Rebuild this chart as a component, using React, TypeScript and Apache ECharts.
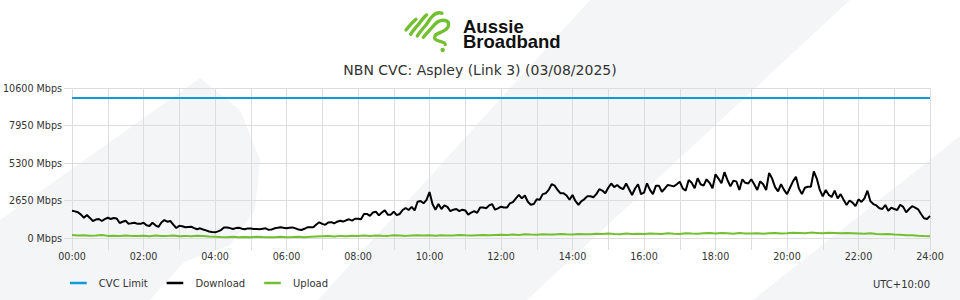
import React, { useEffect, useRef } from 'react';
import * as echarts from 'echarts';

// Download throughput, Mbps, every 5 minutes from 00:00 to 24:00
const DOWNLOAD_MBPS = [
  1930, 1880, 1820, 1650, 1430, 1620, 1420, 1200, 1300, 1340, 1200, 1330,
  1430, 1340, 1410, 1380, 1060, 1150, 1220, 1000, 1050, 1080, 1000, 1000,
  1080, 900, 850, 1080, 900, 780, 1100, 1270, 1150, 1200, 950, 707,
  860, 830, 760, 780, 800, 700, 615, 685, 600, 540, 460, 420,
  400, 470, 560, 740, 740, 700, 640, 700, 728, 660, 615, 680,
  670, 640, 630, 615, 650, 685, 580, 600, 685, 720, 756, 720,
  685, 720, 750, 680, 600, 565, 650, 756, 756, 756, 950, 1110,
  1000, 930, 1100, 1120, 1040, 1150, 1220, 1160, 1250, 1320, 1230, 1360,
  1360, 1320, 1700, 1700, 1560, 1800, 1860, 1600, 1800, 1950, 1650, 1650,
  1860, 1620, 1700, 1979, 2120, 1979, 2200, 1950, 2565, 2620, 2452, 2700,
  3250, 2400, 2000, 2400, 2050, 2300, 2200, 1900, 2000, 2050, 1900, 2000,
  1950, 1650, 1800, 1900, 1780, 2150, 2160, 2099, 2300, 2400, 2000, 2100,
  2212, 2150, 2150, 2452, 2540, 2800, 3050, 2800, 3000, 2565, 2350, 2400,
  2735, 2700, 3100, 3159, 3400, 3800, 3700, 3392, 3159, 3159, 3000, 2700,
  3039, 2600, 2350, 2600, 2750, 2950, 2950, 2880, 3100, 3450, 3350, 3159,
  3550, 3850, 3600, 3745, 3550, 3450, 3850, 3450, 3039, 3500, 3800, 3100,
  3200, 3866, 3400, 3100, 3700, 3700, 3272, 3500, 3750, 3700, 3650, 3800,
  3979, 3500, 3350, 4100, 3900, 3512, 4219, 3800, 3700, 4150, 3900, 3512,
  4500, 4200, 3866, 4650, 4100, 3650, 4050, 4000, 3392, 4148, 3900, 3850,
  4150, 3800, 3392, 4000, 3800, 3392, 4600, 4200, 3600, 3300, 3800, 3400,
  3100, 3550, 4000, 4332, 3500, 3100, 3550, 3625, 3625, 4700, 4200, 3400,
  2950, 3392, 3050, 2900, 3350, 2800, 3100, 2700, 2332, 2650, 2500, 2250,
  2735, 2550, 2800, 3343, 2600, 2400, 2300, 2100, 2050, 2332, 1929, 2141,
  2050, 1979, 2350, 2200, 1816, 2050, 2250, 2150, 2028, 1700, 1392, 1343,
  1555,
];

// Upload throughput, Mbps, every 10 minutes from 00:00 to 24:00
const UPLOAD_MBPS = [
  210, 180, 200, 160, 170, 210, 150, 160, 140, 180, 150, 140,
  160, 130, 170, 140, 150, 180, 130, 150, 120, 160, 140, 100,
  90, 70, 60, 80, 50, 70, 60, 90, 70, 60, 50, 80,
  60, 70, 90, 60, 80, 100, 120, 140, 110, 150, 130, 160,
  150, 170, 140, 180, 160, 150, 190, 170, 150, 180, 200, 170,
  190, 160, 200, 180, 170, 210, 190, 180, 200, 220, 190, 210,
  230, 210, 250, 220, 260, 240, 230, 270, 250, 240, 280, 260,
  250, 290, 270, 260, 300, 280, 320, 290, 270, 310, 280, 300,
  290, 320, 300, 280, 330, 300, 290, 340, 310, 300, 330, 350,
  320, 360, 330, 300, 350, 320, 310, 340, 300, 330, 360, 320,
  340, 370, 350, 330, 380, 360, 340, 370, 350, 330, 360, 340,
  320, 300, 330, 290, 270, 280, 250, 230, 200, 190, 160, 140,
  130,
];

const CVC_LIMIT_MBPS = 9900;
const DOWNLOAD_STEP_MIN = 5;
const UPLOAD_STEP_MIN = 10;
const DAY_MINUTES = 1440;

const X_TICK_LABELS = [
  '00:00', '02:00', '04:00', '06:00', '08:00', '10:00', '12:00',
  '14:00', '16:00', '18:00', '20:00', '22:00', '24:00',
];
const Y_TICK_VALUES = [0, 2650, 5300, 7950, 10600];
const SERIES_NAMES = ['CVC Limit', 'Download', 'Upload'];
const TITLE = 'NBN CVC: Aspley (Link 3) (03/08/2025)';
const TIMEZONE = 'UTC+10:00';
const BRAND_LINES = ['Aussie', 'Broadband'];

const LOGO_PATH =
  'M 78 90 Q 92 72 108 58 ' +
  'M 92 103 C 100 90 108 82 118 70 C 126 60 132 50 140 45 ' +
  'M 112 108 C 120 95 130 85 138 75 C 146 65 150 55 158 48 C 166 40 176 36 186 40 ' +
  'M 130 112 C 140 100 150 90 160 78 C 170 66 185 58 198 62 C 210 66 208 82 196 90 C 182 100 162 100 164 114 C 166 126 196 122 196 134';

echarts.graphic.registerShape('abLogo', echarts.graphic.extendPath(LOGO_PATH, {}));

const FONT = 'DejaVu Sans';
const GREEN = '#72bf2f';
const BLUE = '#0f9ad8';
const BG = '#f4f5f7';
// legend line icon 20px wide followed by blank space before the text
const LEGEND_ICON = 'path://M0,0 H20 V3 H0 Z M25.99,0 H26 V3 H25.99 Z';

export default function App() {
  const ref = useRef<HTMLDivElement>(null);

  useEffect(() => {
    if (!ref.current) return;
    const chart = echarts.init(ref.current, undefined, { renderer: 'svg' });

    const downloadData = DOWNLOAD_MBPS.map((v, i) => [i * DOWNLOAD_STEP_MIN, v]);
    const uploadData = UPLOAD_MBPS.map((v, i) => [i * UPLOAD_STEP_MIN, v]);
    const cvcData = [[0, CVC_LIMIT_MBPS], [DAY_MINUTES, CVC_LIMIT_MBPS]];

    const bg = (points: number[][]) => ({
      type: 'polygon',
      shape: { points },
      style: { fill: BG },
      z: -10,
      silent: true,
    });

    chart.setOption({
      animation: false,
      backgroundColor: '#ffffff',
      title: {
        text: TITLE,
        left: 'center',
        top: 63,
        padding: 0,
        textStyle: { fontFamily: FONT, fontSize: 14, fontWeight: 'normal', color: '#333333' },
      },
      legend: {
        left: 70,
        top: 278,
        padding: 0,
        icon: LEGEND_ICON,
        itemWidth: 26,
        itemHeight: 2.5,
        itemGap: 19,
        data: SERIES_NAMES,
        textStyle: { fontFamily: FONT, fontSize: 10, color: '#333333' },
      },
      grid: { left: 70, right: 30, top: 88, bottom: 62, containLabel: false },
      xAxis: {
        type: 'value',
        min: 0,
        max: DAY_MINUTES,
        interval: 60,
        axisLine: { show: true, lineStyle: { color: '#dddddd' } },
        axisTick: { show: true, length: 12, lineStyle: { color: '#dddddd' } },
        axisLabel: {
          margin: 13,
          fontFamily: FONT,
          fontSize: 9.6,
          color: '#333333',
          formatter: (v: number) => (v % 120 === 0 ? X_TICK_LABELS[v / 120] : ''),
        },
        splitLine: { show: true, lineStyle: { color: '#dddddd' } },
      },
      yAxis: {
        type: 'value',
        min: Y_TICK_VALUES[0],
        max: Y_TICK_VALUES[Y_TICK_VALUES.length - 1],
        interval: Y_TICK_VALUES[1] - Y_TICK_VALUES[0],
        axisLine: { show: false },
        axisTick: { show: true, length: 8, lineStyle: { color: '#dddddd' } },
        axisLabel: {
          margin: 10,
          fontFamily: FONT,
          fontSize: 9.6,
          color: '#333333',
          formatter: (v: number) => `${v} Mbps`,
        },
        splitLine: { show: true, lineStyle: { color: '#dddddd' } },
      },
      graphic: [
        bg([[590, 0], [850, 0], [527, 300], [318, 300]]),
        bg([[753, 300], [960, 136], [960, 300]]),
        bg([[0, 220], [200, 78], [240, 110], [260, 160], [255, 210], [230, 245], [184, 262], [150, 300], [0, 300]]),
        {
          type: 'abLogo',
          x: 380,
          y: 0,
          scaleX: 1 / 3,
          scaleY: 1 / 3,
          style: { fill: 'none', stroke: GREEN, lineWidth: 10, lineCap: 'round', lineJoin: 'round' },
          z: 5,
        },
        { type: 'circle', shape: { cx: 380 + 188 / 3, cy: 150 / 3, r: 2.2 }, style: { fill: GREEN }, z: 5 },
        {
          type: 'text',
          x: 463,
          y: 33.75,
          style: {
            text: BRAND_LINES.join('\n'),
            font: 'bold 18.5px "Liberation Sans"',
            lineHeight: 14.5,
            fill: '#111111',
            verticalAlign: 'middle',
          },
          z: 5,
        },
        {
          type: 'text',
          x: 930,
          y: 284,
          style: {
            text: TIMEZONE,
            font: `10px "${FONT}"`,
            fill: '#333333',
            align: 'right',
            verticalAlign: 'middle',
          },
          z: 5,
        },
      ],
      series: [
        {
          name: SERIES_NAMES[0],
          type: 'line',
          data: cvcData,
          showSymbol: false,
          lineStyle: { color: BLUE, width: 2 },
          itemStyle: { color: BLUE },
        },
        {
          name: SERIES_NAMES[1],
          type: 'line',
          data: downloadData,
          showSymbol: false,
          lineStyle: { color: '#000000', width: 2 },
          itemStyle: { color: '#000000' },
        },
        {
          name: SERIES_NAMES[2],
          type: 'line',
          data: uploadData,
          showSymbol: false,
          lineStyle: { color: GREEN, width: 2 },
          itemStyle: { color: GREEN },
        },
      ],
    });

    return () => chart.dispose();
  }, []);

  return (
    <div
      ref={ref}
      style={{ position: 'absolute', left: 0, top: 0, width: 960, height: 300 }}
    />
  );
}
